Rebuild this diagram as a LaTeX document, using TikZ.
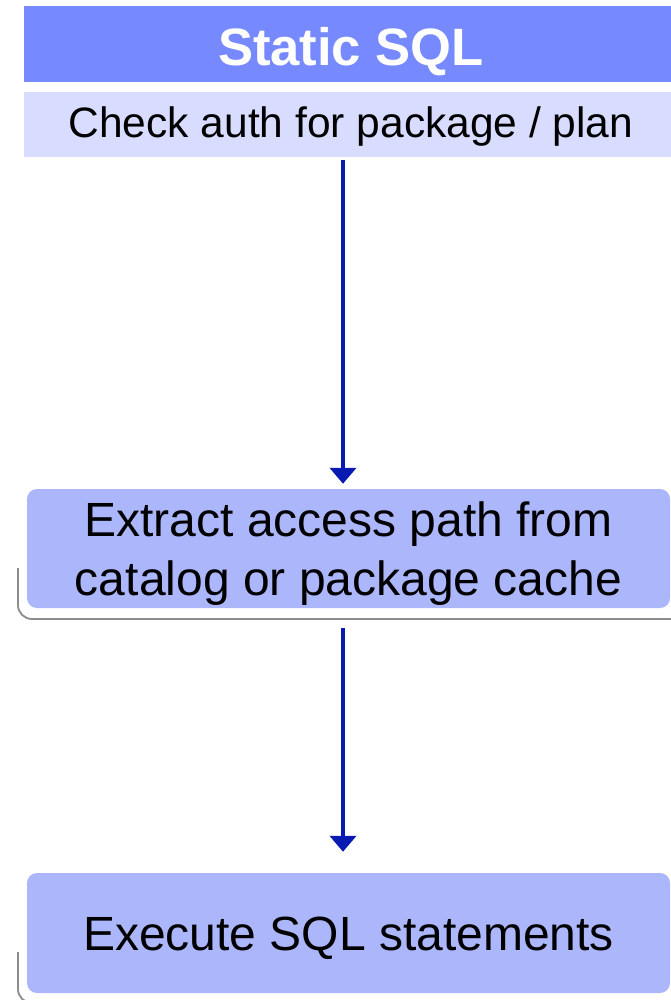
\documentclass[tikz,border=0pt]{standalone}
\usepackage{fontspec}
\setmainfont{Liberation Sans}
\usetikzlibrary{arrows.meta}
\definecolor{headblue}{RGB}{119,137,255}
\definecolor{subblue}{RGB}{216,220,255}
\definecolor{boxblue}{RGB}{172,182,250}
\definecolor{arrowblue}{RGB}{8,26,178}
\definecolor{shadowgray}{RGB}{140,140,140}
\tikzset{
  headbar/.style={rectangle, fill=headblue, inner sep=0pt, minimum width=654pt, minimum height=76pt,
    text=white, font=\fontsize{52.6}{60}\selectfont\bfseries, text height=43pt, text depth=0pt},
  subbar/.style={rectangle, fill=subblue, inner sep=0pt, minimum width=654pt, minimum height=65pt,
    text=black, font=\fontsize{42.5}{50}\selectfont, text height=27pt, text depth=0pt},
  stepbox/.style={rectangle, rounded corners=10pt, fill=boxblue, inner sep=0pt, minimum width=643pt,
    text=black, align=center, font=\fontsize{48}{59}\selectfont},
  flowarrow/.style={draw=arrowblue, line width=4pt, -{Triangle[width=26pt,length=16pt]}},
  boxshadow/.style={draw=shadowgray, line width=1.8pt, rounded corners=14pt}
}
\begin{document}
\begin{tikzpicture}[x=1pt,y=-1pt]
\useasboundingbox (0,0) rectangle (671,1000);
% header
\node[headbar] (head) at (351,44.5) {Static SQL};
\node[subbar] (sub) at (351,124.5) {Check auth for package / plan};
% shadows
\fill[white, rounded corners=14pt] (18,500) rectangle (690,619);
\draw[boxshadow] (18,568) -- (18,619) -- (690,619);
\fill[white, rounded corners=14pt] (18,884) rectangle (690,1003);
\draw[boxshadow] (18,952) -- (18,1003) -- (690,1003);
% boxes
\node[stepbox, minimum height=119pt, text depth=0pt] (extract) at (348.5,548.5) {Extract access path from\\catalog or package cache};
\node[stepbox, minimum height=120pt, text height=34pt, text depth=0pt] (exec) at (348.5,933) {Execute SQL statements};
% arrows
\coordinate (col) at (343,0);
\draw[flowarrow, shorten <=3pt, shorten >=5pt] (sub.south -| col) -- (extract.north -| col);
\draw[flowarrow, shorten <=20pt, shorten >=21pt] (extract.south -| col) -- (exec.north -| col);
\end{tikzpicture}
\end{document}
